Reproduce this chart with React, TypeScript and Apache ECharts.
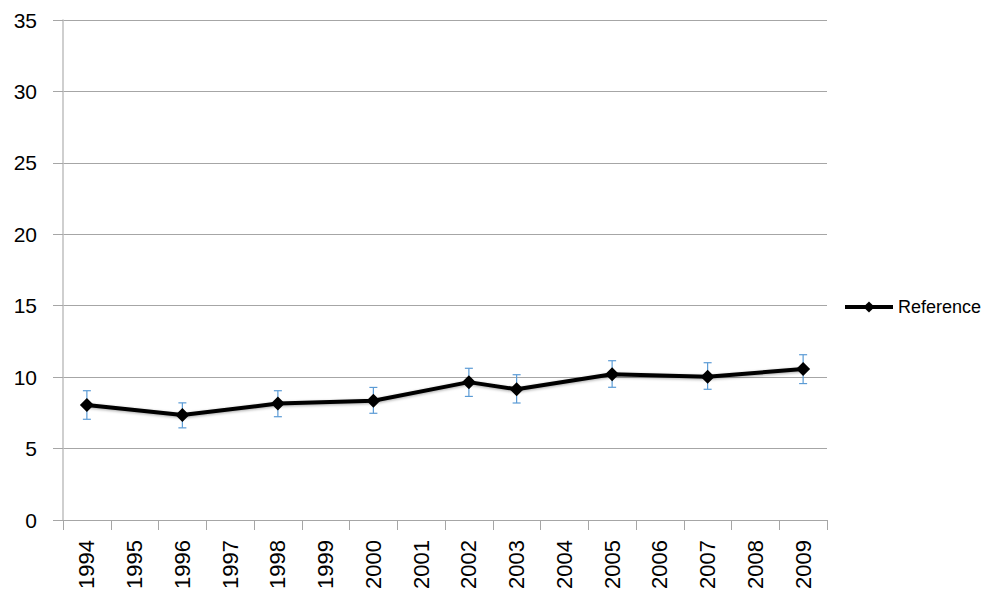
import React, { useEffect, useRef } from "react";
import * as echarts from "echarts";

const years = ["1994","1995","1996","1997","1998","1999","2000","2001","2002","2003","2004","2005","2006","2007","2008","2009"];
const referenceValues: (number | null)[] = [8.05, null, 7.35, null, 8.15, null, 8.35, null, 9.65, 9.15, null, 10.2, null, 10.03, null, 10.57];
const errorLow: (number | null)[] = [7.05, null, 6.45, null, 7.23, null, 7.47, null, 8.65, 8.19, null, 9.29, null, 9.15, null, 9.55];
const errorHigh: (number | null)[] = [9.05, null, 8.2, null, 9.05, null, 9.28, null, 10.62, 10.17, null, 11.15, null, 11.01, null, 11.57];
const yTicks = { min: 0, max: 35, interval: 5 };

export default function App() {
  const ref = useRef<HTMLDivElement>(null);
  useEffect(() => {
    if (!ref.current) return;
    const chart = echarts.init(ref.current, null, { renderer: "svg" });
    const errData: number[][] = [];
    years.forEach((_, i) => {
      const lo = errorLow[i];
      const hi = errorHigh[i];
      if (lo != null && hi != null) errData.push([i, lo, hi]);
    });
    const font = "'Liberation Sans', Arial, sans-serif";
    chart.setOption({
      animation: false,
      backgroundColor: "#ffffff",
      grid: { left: 63, right: 173, top: 20, bottom: 90, containLabel: false },
      legend: {
        data: ["Reference"],
        orient: "vertical",
        left: 843,
        top: 298,
        padding: 0,
        itemWidth: 48,
        itemHeight: 14,
        lineStyle: { width: 4, color: "#000" },
        textStyle: { fontFamily: font, fontSize: 18, color: "#000" },
      },
      xAxis: {
        type: "category",
        data: years,
        boundaryGap: true,
        axisLine: { show: true, lineStyle: { color: "#a6a6a6", width: 1 } },
        axisTick: { show: true, length: 10, alignWithLabel: false, lineStyle: { color: "#a6a6a6" } },
        axisLabel: { rotate: 90, margin: 20, fontFamily: font, fontSize: 22, color: "#000", interval: 0 },
        splitLine: { show: false },
      },
      yAxis: {
        type: "value",
        min: yTicks.min,
        max: yTicks.max,
        interval: yTicks.interval,
        axisLine: { show: true, lineStyle: { color: "#bfbfbf", width: 1.5 } },
        axisTick: { show: true, length: 10, lineStyle: { color: "#a6a6a6" } },
        axisLabel: { margin: 26, fontFamily: font, fontSize: 21, color: "#000" },
        splitLine: { show: true, lineStyle: { color: "#a6a6a6", width: 1 } },
      },
      series: [
        {
          type: "custom",
          name: "err",
          z: 1,
          data: errData,
          encode: { x: 0, y: [1, 2] },
          renderItem: (params: any, api: any) => {
            const x = api.value(0);
            const lo = api.coord([x, api.value(1)]);
            const hi = api.coord([x, api.value(2)]);
            const hw = 4;
            const style = { stroke: "#5b9bd5", lineWidth: 1.2 };
            return {
              type: "group",
              children: [
                { type: "line", shape: { x1: lo[0], y1: lo[1], x2: hi[0], y2: hi[1] }, style },
                { type: "line", shape: { x1: hi[0] - hw, y1: hi[1], x2: hi[0] + hw, y2: hi[1] }, style },
                { type: "line", shape: { x1: lo[0] - hw, y1: lo[1], x2: lo[0] + hw, y2: lo[1] }, style },
              ],
            };
          },
        },
        {
          type: "line",
          name: "Reference",
          z: 3,
          data: referenceValues,
          connectNulls: true,
          symbol: "diamond",
          symbolSize: 14,
          showAllSymbol: true,
          itemStyle: { color: "#000" },
          lineStyle: {
            color: "#000",
            width: 4,
            shadowColor: "rgba(0,0,0,0.35)",
            shadowBlur: 3,
            shadowOffsetY: 1,
          },
        },
      ],
    });
    return () => chart.dispose();
  }, []);
  return <div ref={ref} style={{ position: "fixed", left: 0, top: 0, width: 1000, height: 610 }} />;
}
